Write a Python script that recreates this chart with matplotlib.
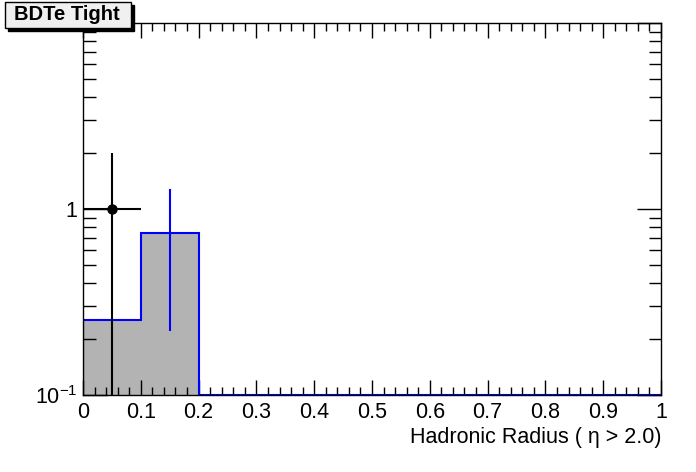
import numpy as np
import matplotlib
matplotlib.use("Agg")
import matplotlib.pyplot as plt
from matplotlib.ticker import MultipleLocator, LogLocator, FixedLocator, NullFormatter
from matplotlib.patches import Rectangle

plt.rcParams['font.family'] = ['Liberation Sans', 'DejaVu Sans']
plt.rcParams['mathtext.fontset'] = 'custom'
plt.rcParams['mathtext.rm'] = 'Liberation Sans'

# histogram (background MC), 10 bins from 0 to 1
bin_edges = np.linspace(0.0, 1.0, 11)
mc_values = [0.253, 0.743, 0, 0, 0, 0, 0, 0, 0, 0]
mc_errors = [0.0, 0.52, 0, 0, 0, 0, 0, 0, 0, 0]

# data points
data_x = [0.05]
data_y = [1.0]
data_xerr = [0.05]
data_yerr = [1.0]

x_ticklabels = ['0', '0.1', '0.2', '0.3', '0.4', '0.5', '0.6', '0.7', '0.8', '0.9', '1']

ymin, ymax = 0.1, 10.0

fig = plt.figure(figsize=(6.96, 4.72), dpi=100)
ax = fig.add_axes([83/696, 1 - 395/472, (661-83)/696, (395-23)/472])

vals = np.clip(np.array(mc_values, dtype=float), ymin, None)
ax.stairs(vals, bin_edges, fill=True, color='#b3b3b3', baseline=ymin, zorder=1)
ax.stairs(vals, bin_edges, color='blue', linewidth=1.5, baseline=ymin, zorder=2)

centers = 0.5 * (bin_edges[:-1] + bin_edges[1:])
for c, v, e in zip(centers, mc_values, mc_errors):
    if v > 0 and e > 0:
        ax.plot([c, c], [max(v - e, ymin), v + e], color='blue', lw=1.5, zorder=3)

ax.errorbar(data_x, data_y, xerr=data_xerr,
            yerr=[[min(d, y - 1e-9) for d, y in zip(data_yerr, data_y)], data_yerr],
            fmt='o', color='black', ms=6.5, lw=1.5, capsize=0, zorder=4)

ax.set_xlim(0, 1)
ax.set_yscale('log')
ax.set_ylim(ymin, ymax)

ax.set_xticks(bin_edges)
ax.set_xticklabels(x_ticklabels)
ax.xaxis.set_minor_locator(MultipleLocator(0.02))

ax.yaxis.set_major_locator(FixedLocator([0.1, 1, 10]))
ax.set_yticklabels(['$10^{-1}$', '1', ''])
ax.yaxis.set_minor_locator(LogLocator(base=10, subs=np.arange(2, 10)))
ax.yaxis.set_minor_formatter(NullFormatter())

ax.tick_params(which='both', direction='in', top=True, right=True, labelsize=15.5, width=1)
ax.tick_params(axis='x', which='major', length=11, pad=5)
ax.tick_params(axis='x', which='minor', length=6)
ax.tick_params(axis='y', which='major', length=17, pad=4)
ax.tick_params(axis='y', which='minor', length=9)
for s in ax.spines.values():
    s.set_linewidth(1.0)

ax.set_xlabel('Hadronic Radius ( η > 2.0)', fontsize=15.5, loc='right', labelpad=3)

# title box with shadow
fig.patches.append(Rectangle((8/696, 1 - 31/472), 126/696, 26/472, transform=fig.transFigure,
                             facecolor='black', edgecolor='black', zorder=10))
fig.patches.append(Rectangle((5/696, 1 - 28/472), 126/696, 26/472, transform=fig.transFigure,
                             facecolor='#f0f0f0', edgecolor='black', lw=1.0, zorder=11))
fig.text(67/696, 1 - 15/472, 'BDTe Tight', fontsize=14.5, fontweight='bold',
         ha='center', va='center', zorder=12)

fig.savefig('out.png', dpi=100)
